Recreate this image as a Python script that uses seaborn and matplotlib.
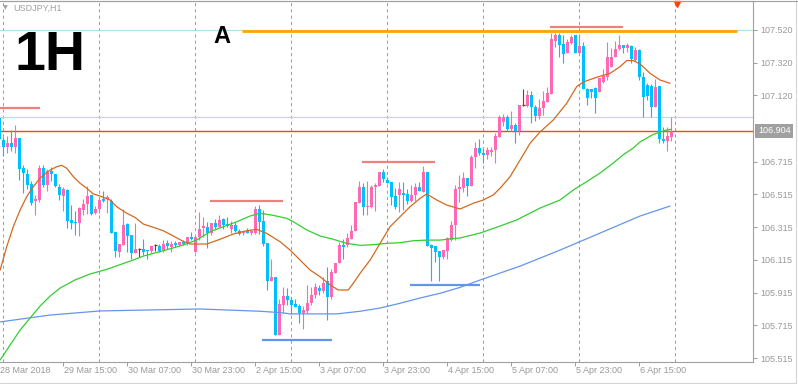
"""
USDJPY H1 chart, MetaTrader look
"""
import matplotlib
matplotlib.use('Agg')
import matplotlib.pyplot as plt
import matplotlib.transforms as mtransforms
from matplotlib.lines import Line2D
import seaborn as sns
import numpy as np

sns.set_style('white')
plt.rcParams['font.family'] = ['Liberation Sans', 'DejaVu Sans']

# ---- candles (bar 0 = 28 Mar 23:00, one bar per hour) ----
opens = [
    106.980, 106.848, 106.803, 106.831, 106.807, 106.860, 106.676, 106.640, 106.579, 106.477,
    106.481, 106.676, 106.571, 106.660, 106.640, 106.559, 106.505, 106.542, 106.359, 106.346,
    106.342, 106.420, 106.456, 106.510, 106.404, 106.428, 106.485, 106.489, 106.477, 106.285,
    106.163, 106.204, 106.334, 106.269, 106.159, 106.180, 106.180, 106.175, 106.167, 106.204,
    106.200, 106.175, 106.220, 106.192, 106.220, 106.208, 106.224, 106.216, 106.253, 106.163,
    106.257, 106.310, 106.316, 106.277, 106.342, 106.318, 106.363, 106.334, 106.302, 106.330,
    106.289, 106.277, 106.289, 106.277, 106.277, 106.428, 106.354, 106.220, 105.988, 106.012,
    105.654, 105.841, 105.894, 105.870, 105.846, 105.833, 105.792, 105.805, 105.854, 105.899,
    105.943, 105.927, 105.984, 105.890, 106.037, 106.094, 106.208, 106.208, 106.244, 106.293,
    106.465, 106.559, 106.440, 106.440, 106.559, 106.567, 106.652, 106.603, 106.591, 106.505,
    106.510, 106.526, 106.518, 106.477, 106.510, 106.562, 106.530, 106.652, 106.204, 106.200,
    106.171, 106.134, 106.171, 106.236, 106.326, 106.550, 106.554, 106.615, 106.567, 106.742,
    106.799, 106.770, 106.758, 106.774, 106.787, 106.868, 106.958, 106.986, 106.917, 106.937,
    106.901, 107.060, 107.056, 107.121, 107.051, 106.994, 107.043, 107.080, 107.129, 107.455,
    107.491, 107.434, 107.378, 107.442, 107.488, 107.381, 107.422, 107.161, 107.161, 107.166,
    107.141, 107.202, 107.231, 107.292, 107.357, 107.406, 107.426, 107.410, 107.422, 107.337,
    107.398, 107.235, 107.184, 107.178, 107.048, 107.178, 106.856, 106.843, 106.868,
]
highs = [
    106.988, 106.864, 106.872, 106.909, 106.941, 106.860, 106.693, 106.669, 106.595, 106.513,
    106.693, 106.693, 106.669, 106.684, 106.640, 106.579, 106.562, 106.550, 106.449, 106.412,
    106.436, 106.485, 106.567, 106.513, 106.444, 106.501, 106.538, 106.510, 106.485, 106.285,
    106.212, 106.428, 106.338, 106.269, 106.338, 106.188, 106.241, 106.175, 106.200, 106.212,
    106.212, 106.236, 106.236, 106.228, 106.228, 106.224, 106.236, 106.257, 106.285, 106.257,
    106.408, 106.375, 106.346, 106.342, 106.367, 106.387, 106.371, 106.375, 106.354, 106.346,
    106.302, 106.293, 106.310, 106.298, 106.444, 106.452, 106.420, 106.220, 106.122, 106.012,
    105.874, 105.947, 105.943, 105.890, 105.878, 105.846, 105.833, 105.963, 105.951, 105.976,
    105.963, 106.008, 106.073, 106.057, 106.098, 106.224, 106.241, 106.277, 106.326, 106.469,
    106.595, 106.583, 106.595, 106.575, 106.587, 106.652, 106.669, 106.623, 106.591, 106.554,
    106.591, 106.591, 106.546, 106.571, 106.587, 106.591, 106.689, 106.652, 106.212, 106.200,
    106.171, 106.175, 106.253, 106.354, 106.571, 106.632, 106.652, 106.615, 106.754, 106.836,
    106.856, 106.791, 106.807, 106.807, 106.889, 107.002, 107.006, 107.002, 107.027, 106.953,
    107.060, 107.161, 107.153, 107.149, 107.063, 107.100, 107.149, 107.170, 107.500, 107.504,
    107.500, 107.491, 107.467, 107.491, 107.491, 107.491, 107.447, 107.166, 107.161, 107.173,
    107.227, 107.283, 107.447, 107.410, 107.455, 107.489, 107.430, 107.439, 107.428, 107.416,
    107.404, 107.263, 107.196, 107.190, 107.222, 107.178, 106.925, 106.925, 106.986,
]
lows = [
    106.848, 106.750, 106.770, 106.782, 106.766, 106.603, 106.526, 106.546, 106.449, 106.391,
    106.469, 106.559, 106.534, 106.599, 106.559, 106.481, 106.412, 106.310, 106.306, 106.265,
    106.261, 106.391, 106.395, 106.387, 106.395, 106.400, 106.469, 106.400, 106.281, 106.134,
    106.134, 106.204, 106.163, 106.122, 106.155, 106.134, 106.147, 106.118, 106.155, 106.167,
    106.163, 106.163, 106.184, 106.163, 106.196, 106.204, 106.204, 106.204, 106.236, 106.163,
    106.236, 106.257, 106.188, 106.269, 106.306, 106.314, 106.302, 106.318, 106.277, 106.285,
    106.265, 106.269, 106.277, 106.269, 106.273, 106.273, 106.200, 105.931, 105.988, 105.654,
    105.654, 105.789, 105.837, 105.784, 105.829, 105.731, 105.694, 105.789, 105.837, 105.882,
    105.899, 105.915, 105.748, 105.878, 106.033, 106.094, 106.122, 106.196, 106.241, 106.293,
    106.465, 106.387, 106.387, 106.432, 106.416, 106.567, 106.591, 106.587, 106.452, 106.424,
    106.408, 106.420, 106.456, 106.469, 106.477, 106.538, 106.530, 106.200, 105.988, 106.102,
    105.988, 106.118, 106.118, 106.232, 106.236, 106.469, 106.530, 106.505, 106.567, 106.676,
    106.754, 106.709, 106.734, 106.750, 106.709, 106.868, 106.933, 106.901, 106.901, 106.831,
    106.876, 107.056, 107.051, 106.953, 106.966, 106.974, 106.999, 107.080, 107.129, 107.418,
    107.357, 107.320, 107.378, 107.434, 107.381, 107.381, 107.161, 107.060, 107.104, 107.011,
    107.141, 107.194, 107.214, 107.292, 107.355, 107.398, 107.378, 107.386, 107.320, 107.331,
    107.214, 106.988, 107.092, 106.988, 107.048, 106.831, 106.828, 106.779, 106.843,
]
closes = [
    106.852, 106.803, 106.831, 106.807, 106.860, 106.670, 106.644, 106.575, 106.465, 106.489,
    106.676, 106.575, 106.660, 106.640, 106.567, 106.513, 106.546, 106.354, 106.342, 106.340,
    106.432, 106.456, 106.505, 106.395, 106.428, 106.481, 106.477, 106.501, 106.281, 106.171,
    106.212, 106.326, 106.261, 106.155, 106.180, 106.180, 106.163, 106.167, 106.200, 106.204,
    106.167, 106.212, 106.200, 106.212, 106.204, 106.224, 106.212, 106.257, 106.241, 106.257,
    106.302, 106.322, 106.279, 106.342, 106.314, 106.359, 106.326, 106.322, 106.330, 106.289,
    106.273, 106.289, 106.281, 106.289, 106.428, 106.346, 106.212, 105.988, 106.012, 105.658,
    105.846, 105.894, 105.870, 105.841, 105.829, 105.792, 105.809, 105.854, 105.899, 105.947,
    105.927, 105.976, 105.890, 106.041, 106.098, 106.204, 106.196, 106.249, 106.293, 106.469,
    106.559, 106.436, 106.444, 106.562, 106.575, 106.652, 106.611, 106.587, 106.501, 106.440,
    106.550, 106.510, 106.477, 106.513, 106.562, 106.538, 106.652, 106.200, 106.188, 106.163,
    106.134, 106.175, 106.249, 106.326, 106.550, 106.562, 106.615, 106.567, 106.746, 106.799,
    106.766, 106.758, 106.787, 106.787, 106.872, 106.986, 106.986, 106.913, 106.937, 106.901,
    107.060, 107.060, 107.121, 107.051, 106.994, 107.043, 107.084, 107.137, 107.467, 107.491,
    107.430, 107.373, 107.447, 107.475, 107.381, 107.422, 107.161, 107.104, 107.141, 107.104,
    107.227, 107.239, 107.357, 107.357, 107.406, 107.430, 107.410, 107.426, 107.341, 107.398,
    107.233, 107.112, 107.117, 107.049, 107.170, 106.852, 106.843, 106.872, 106.904,
]

# ---- moving averages (bar position, price) ----
ma_fast_bar = [0.2, 1.85, 3.5, 5.2, 6.85, 8.5, 10.2, 12.7, 14.35, 15.6, 16.85, 18.5, 20.2,
               21.85, 23.5, 25.2, 27.7, 29.35, 31.85, 33.9, 36, 38.5, 41, 43.5, 46, 47.7,
               51.85, 55.2, 58.5, 61.85, 64.35, 66.85, 70.2, 72.7, 75.2, 77.7, 80.2, 82.7,
               84.75, 87.25, 88.5, 90.2, 92.7, 95.2, 97.7, 100.2, 102.7, 105.2, 106.85,
               109.35, 111.85, 115.2, 118.5, 121, 123.5, 125.2, 127.7, 130.2, 132.7, 135.2,
               138.5, 141.85, 144.35, 146, 149.35, 152.7, 155.2, 156.85, 158.5, 160.2,
               162.7, 165.2, 167.7]
ma_fast = [106.053, 106.195, 106.318, 106.420, 106.501, 106.562, 106.615, 106.664, 106.684,
           106.693, 106.675, 106.624, 106.583, 106.553, 106.518, 106.505, 106.481, 106.440,
           106.400, 106.375, 106.334, 106.314, 106.293, 106.261, 106.228, 106.212, 106.212,
           106.241, 106.273, 106.293, 106.302, 106.277, 106.226, 106.175, 106.114, 106.053,
           106.012, 105.962, 105.931, 105.931, 105.972, 106.033, 106.114, 106.216, 106.318,
           106.379, 106.440, 106.491, 106.518, 106.481, 106.450, 106.426, 106.461, 106.481,
           106.512, 106.553, 106.624, 106.725, 106.828, 106.897, 106.970, 107.072, 107.174,
           107.202, 107.231, 107.255, 107.296, 107.333, 107.333, 107.312, 107.255, 107.214,
           107.194]

ma_mid_bar = [0.2, 2.7, 5.2, 7.7, 10.2, 12.7, 15.2, 18.9, 22.7, 26.85, 33.9, 36, 41, 46,
              49.35, 52.7, 56, 59.35, 62.7, 65.2, 68.5, 71.85, 73.5, 76.85, 80.2, 83.5,
              86.85, 90.2, 93.5, 96.85, 100.2, 103.5, 106.85, 110.2, 113.5, 115.2, 120.2,
              125.2, 129.35, 135.2, 140.2, 143.5, 146.85, 150.2, 153.5, 155.9, 158.5, 160.2,
              163.5, 166.85, 168]
ma_mid = [105.503, 105.595, 105.686, 105.760, 105.833, 105.894, 105.943, 105.992, 106.029,
          106.057, 106.118, 106.138, 106.171, 106.206, 106.236, 106.287, 106.318, 106.348,
          106.383, 106.400, 106.387, 106.369, 106.348, 106.298, 106.261, 106.241, 106.216,
          106.204, 106.208, 106.216, 106.220, 106.232, 106.236, 106.236, 106.245, 106.249,
          106.279, 106.322, 106.359, 106.432, 106.481, 106.542, 106.593, 106.646, 106.707,
          106.756, 106.799, 106.836, 106.882, 106.909, 106.913]

ma_slow_bar = [0.2, 12.7, 25.2, 37.7, 50.2, 65.2, 70.2, 72.7, 84.35, 90.2, 95.2, 100.2,
               105.2, 110.2, 115.2, 120.2, 130.2, 140.2, 150.2, 160.2, 167.7]
ma_slow = [105.736, 105.778, 105.803, 105.809, 105.815, 105.801, 105.793, 105.785, 105.785,
           105.801, 105.821, 105.850, 105.882, 105.911, 105.947, 105.992, 106.077, 106.175,
           106.279, 106.383, 106.444]

# ---- drawn objects ----
resist_levels = [107.043, 106.475, 106.713, 107.536]
resist_from = [0.0, 52.7, 90.7, 137.7]
resist_to = [10.2, 70.9, 108.9, 156.0]
support_levels = [105.625, 105.961]
support_from = [65.7, 102.7]
support_to = [83.2, 120.2]
level_a = 107.516
level_a_span = (60.7, 184.4)
pale_levels = [107.520, 106.988]
bid_price = 106.904

# ---- axes text ----
price_ticks = [107.520, 107.320, 107.120, 106.715, 106.515, 106.315, 106.115, 105.915,
               105.715, 105.515]
time_tick_bars = [0, 16, 32, 48, 64, 80, 96, 112, 128, 144, 160]
time_labels = ['28 Mar 2018', '29 Mar 15:00', '30 Mar 07:00', '30 Mar 23:00', '2 Apr 15:00',
               '3 Apr 07:00', '3 Apr 23:00', '4 Apr 15:00', '5 Apr 07:00', '5 Apr 23:00',
               '6 Apr 15:00']
day_start_bars = [1, 25, 49, 73, 97, 121, 145, 169]

BULL = '#FF69B4'
BEAR = '#00BFFF'
GRAY = '#A0A0A0'
TXT = '#999999'

W, H = 798, 384
fig = plt.figure(figsize=(W / 100, H / 100), dpi=100)
fig.patch.set_facecolor('white')
ax = fig.add_axes([0, 22 / H, 753 / W, 361 / H])
ax.set_facecolor('white')
ax.set_xlim(0.175, 188.425)
ax.set_ylim(105.491, 107.697)

# day separators
for b in day_start_bars:
    ax.axvline(b, color=GRAY, lw=0.75, ls=(0, (3, 3)), zorder=0)

# pale horizontal lines and bid line
for lv in pale_levels:
    ax.axhline(lv, color='#B0E0E6', lw=0.8, zorder=1)
ax.axhline(bid_price, color='#FF4500', lw=1.0, zorder=1)

# candles
o = np.array(opens)
h = np.array(highs)
l = np.array(lows)
c = np.array(closes)
idx = np.arange(len(o))
doji = np.isclose(o, c, atol=1e-4)
bull = (c > o) & ~doji
colors = np.where(bull, BULL, BEAR).astype(object)
colors[doji] = 'red'

ax.vlines(idx, l, h, colors=list(colors), lw=0.8, zorder=2)
body_h = np.maximum(np.abs(c - o), 0.006)
body_b = np.minimum(o, c)
nd = ~doji
ax.bar(idx[nd], body_h[nd], bottom=body_b[nd], width=0.75,
       color=list(colors[nd]), linewidth=0, zorder=3)
ax.hlines(o[doji], idx[doji] - 0.4, idx[doji] + 0.4, colors='red', lw=0.9, zorder=3)

# moving averages
sns.lineplot(x=ma_slow_bar, y=ma_slow, ax=ax, color='#6495ED', lw=0.9,
             estimator=None, sort=False, zorder=4)
sns.lineplot(x=ma_mid_bar, y=ma_mid, ax=ax, color='#32CD32', lw=0.9,
             estimator=None, sort=False, zorder=4)
sns.lineplot(x=ma_fast_bar, y=ma_fast, ax=ax, color='#D2691E', lw=0.9,
             estimator=None, sort=False, zorder=4)

# resistance / support marks
ax.hlines(resist_levels, resist_from, resist_to, colors='#F08080', lw=1.6, zorder=5)
ax.hlines(support_levels, support_from, support_to, colors='#6495ED', lw=1.6, zorder=5)
ax.hlines(level_a, level_a_span[0], level_a_span[1], colors='#FFA500', lw=2.0, zorder=5)

# shift marker
ax.plot([169.4], [107.677], marker='v', color='#FF4500', ms=5, clip_on=False, zorder=6)

# spines
ax.spines['left'].set_visible(False)
for side in ['top', 'right', 'bottom']:
    ax.spines[side].set_color(GRAY)
    ax.spines[side].set_linewidth(0.8)

# y axis on the right
ax.yaxis.tick_right()
ax.set_yticks(price_ticks)
ax.set_yticklabels([f'{v:.3f}' for v in price_ticks])
ax.tick_params(axis='y', right=True, left=False, length=3, width=0.75, color=GRAY,
               labelcolor=TXT, labelsize=6.5, pad=2)
trans_ay = mtransforms.blended_transform_factory(ax.transAxes, ax.transData)
ax.text(1 + 5 / 753, bid_price, f'{bid_price:.3f}', transform=trans_ay, ha='left',
        va='center', fontsize=6.5, color='white', clip_on=False, zorder=7,
        bbox=dict(boxstyle='square,pad=0.3', fc=GRAY, ec='none'))

# x axis
ax.set_xticks(time_tick_bars[1:])
ax.tick_params(axis='x', bottom=True, length=3, width=0.75, color=GRAY, labelbottom=False)
trans_xa = mtransforms.blended_transform_factory(ax.transData, ax.transAxes)
for b, lab in zip(time_tick_bars, time_labels):
    ax.text(b + 0.3, -8.7 / 361, lab, transform=trans_xa, ha='left', va='center',
            fontsize=6.5, color=TXT, clip_on=False)

# chart captions
fig.text(3 / W, 1 - 8 / H, '\u25bc', fontsize=4.5, color=GRAY, va='center', ha='left',
         family=['DejaVu Sans'])
fig.text(13 / W, 1 - 8.5 / H, 'USDJPY,H1', fontsize=6.5, color=GRAY, va='center', ha='left')
fig.text(14 / W, 1 - 70 / H, '1H', fontsize=40, fontweight='bold', color='black',
         va='baseline', ha='left')
fig.text(213 / W, 1 - 43 / H, 'A', fontsize=17, fontweight='bold', color='black',
         va='baseline', ha='left')

# outer frame
fig.add_artist(Line2D([795.5 / W, 795.5 / W], [1 - 382.5 / H, 1], color='#D4D4D4', lw=0.8))
fig.add_artist(Line2D([0, 795.5 / W], [1 - 382.5 / H, 1 - 382.5 / H], color='#D4D4D4', lw=0.8))
fig.add_artist(Line2D([0, 1], [1 - 0.5 / H, 1 - 0.5 / H], color=GRAY, lw=0.8))

fig.savefig('out.png', dpi=100)
